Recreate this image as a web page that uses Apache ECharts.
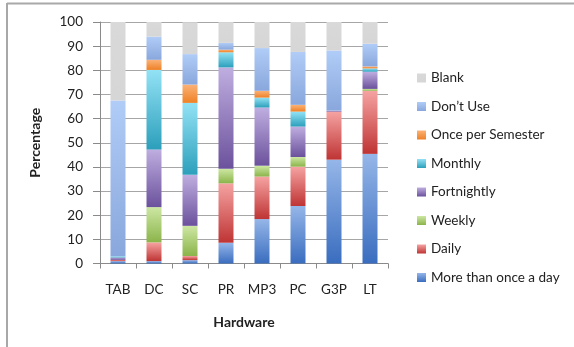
<!DOCTYPE html>
<html><head><meta charset="utf-8">
<script src="https://cdn.jsdelivr.net/npm/echarts@6/dist/echarts.min.js"></script>
<style>html,body{margin:0;padding:0;background:#fff}#c{width:574px;height:347px}</style>
</head><body><div id="c"></div>
<script>
const categories = ['TAB','DC','SC','PR','MP3','PC','G3P','LT'];
const seriesNames = ['More than once a day','Daily','Weekly','Fortnightly','Monthly','Once per Semester',"Don\u2019t Use",'Blank'];
const moreThanOnce = [1, 1, 1.4, 8.6, 18.4, 23.8, 43, 45.4];
const daily        = [0.5, 7.75, 1.7, 24.6, 17.6, 16.3, 19.9, 26.1];
const weekly       = [0, 14.6, 12.5, 6, 4.5, 4, 0, 0.8];
const fortnightly  = [1, 23.9, 21.1, 42, 24.1, 12.6, 0.4, 7.1];
const monthly      = [0.5, 32.9, 29.8, 6.25, 4.1, 6.2, 0, 1.4];
const oncePerSem   = [0, 4.2, 7.6, 1.1, 2.8, 2.8, 0, 0.8];
const dontUse      = [64.5, 9.6, 12.6, 2.8, 17.7, 21.9, 24.9, 9.4];
const blank        = [32.5, 6.1, 13.2, 8.6, 10.8, 12.4, 11.8, 9];
const yTicks = [0,10,20,30,40,50,60,70,80,90,100];

const values = [moreThanOnce, daily, weekly, fortnightly, monthly, oncePerSem, dontUse, blank];
const grads = [
  ['#95b6e8','#3a6dbf'],
  ['#f5a3a2','#bf3434'],
  ['#cde7a3','#8bb44a'],
  ['#bfaee0','#6b519c'],
  ['#93e2f5','#2c9fbb'],
  ['#fbb277','#ee8126'],
  ['#b0ccf7','#89a7dc'],
  ['#d9d9d9','#d6d6d6']
];
const font = 'Lato, "Open Sans", sans-serif';
const chart = echarts.init(document.getElementById('c'));
chart.setOption({
  animation:false,
  textStyle:{fontFamily:font},
  graphic:[
    {type:'line', shape:{x1:7,y1:3.5,x2:574,y2:3.5}, style:{stroke:'#a8a8a8',lineWidth:2}},
    {type:'line', shape:{x1:7,y1:3,x2:7,y2:347}, style:{stroke:'#a8a8a8',lineWidth:2}}
  ],
  grid:{left:100,top:22,width:288,height:241.5,containLabel:false},
  legend:{
    orient:'vertical', left:412, top:66, itemWidth:9, itemHeight:9, itemGap:14.5,
    data: seriesNames.slice().reverse(),
    textStyle:{fontFamily:font,fontSize:13.5,color:'#222'},
    icon:'rect'
  },
  xAxis:{
    type:'category', data:categories,
    name:'Hardware', nameLocation:'middle', nameGap:52,
    nameTextStyle:{fontFamily:font,fontSize:14,fontWeight:'bold',color:'#222'},
    axisLine:{lineStyle:{color:'#8a8a8a'}},
    axisTick:{show:true,length:5,lineStyle:{color:'#8a8a8a'}},
    axisLabel:{fontFamily:font,fontSize:13.5,color:'#222',margin:19,interval:0},
    splitLine:{show:false}
  },
  yAxis:{
    type:'value', min:0, max:100, interval:10,
    name:'Percentage', nameLocation:'middle', nameGap:58, nameRotate:90,
    nameTextStyle:{fontFamily:font,fontSize:14,fontWeight:'bold',color:'#222'},
    axisLine:{show:true,lineStyle:{color:'#8a8a8a'}},
    axisTick:{show:true,length:7,lineStyle:{color:'#8a8a8a'}},
    axisLabel:{fontFamily:font,fontSize:13.5,color:'#222',margin:17,
      formatter:v=>yTicks.includes(v)?String(v):''},
    splitLine:{lineStyle:{color:'#a6a6a6'}}
  },
  series: seriesNames.map((n,i)=>({
    name:n, type:'bar', stack:'a', barWidth:15,
    data: values[i],
    itemStyle:{color:new echarts.graphic.LinearGradient(0,0,0,1,[{offset:0,color:grads[i][0]},{offset:1,color:grads[i][1]}])}
  }))
});
</script></body></html>
